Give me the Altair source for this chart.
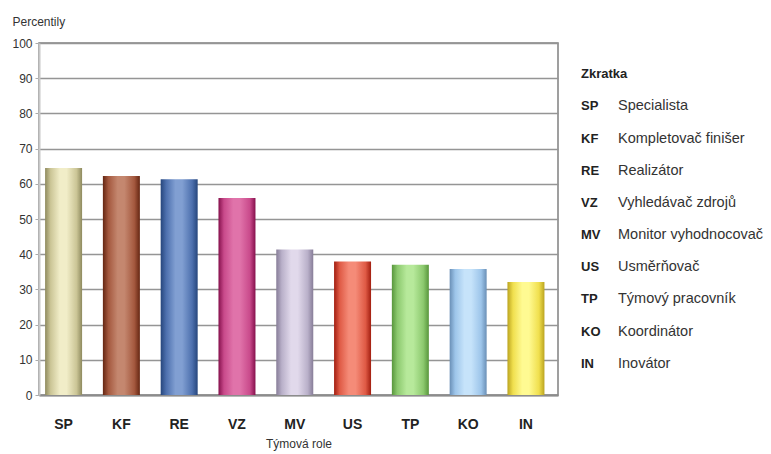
import altair as alt
import pandas as pd

# ---- data ----
roles = ["SP", "KF", "RE", "VZ", "MV", "US", "TP", "KO", "IN"]
values = [64.5, 62.2, 61.3, 56.0, 41.3, 37.9, 37.0, 35.8, 32.1]
names = ["Specialista", "Kompletovač finišer", "Realizátor", "Vyhledávač zdrojů",
         "Monitor vyhodnocovač", "Usměrňovač", "Týmový pracovník", "Koordinátor", "Inovátor"]
# cylinder shading per bar: (edge, base, highlight)
edge_cols = ["#8e8a5e", "#652612", "#26467c", "#86104c", "#877d98", "#a21e10", "#58963c", "#6a8fb6", "#bba420"]
base_cols = ["#cbc596", "#a4583e", "#4d70ae", "#c94a8b", "#b9b0c9", "#df5a45", "#8cc96e", "#9dc5ea", "#f0df4e"]
light_cols = ["#f1edc8", "#c4876f", "#819fd2", "#e073aa", "#e1d9eb", "#f58b78", "#b7e99b", "#c6e3fa", "#fffa92"]

FONT = "Liberation Sans"

bars_df = pd.DataFrame({"role": roles, "value": values})

x_enc = alt.X(
    "role:N",
    scale=alt.Scale(domain=roles, paddingInner=0.36, paddingOuter=0.17, align=0.31),
    axis=alt.Axis(
        title="Týmová role", labelAngle=0, ticks=False, labelPadding=22,
        labelFontSize=14, labelFontWeight="bold", labelColor="#222", labelFont=FONT,
        titleFontSize=12, titleFontWeight="normal", titleColor="#333", titleFont=FONT,
        titlePadding=7, domainColor="#8c8c8c", domainWidth=2,
    ),
)
y_enc = alt.Y(
    "value:Q",
    scale=alt.Scale(domain=[0, 100], nice=False),
    axis=alt.Axis(
        values=list(range(0, 101, 10)), title="Percentily", titleAngle=0,
        titleAlign="left", titleBaseline="middle", titleX=-27, titleY=-22,
        titleFontSize=12, titleFontWeight="normal", titleColor="#333", titleFont=FONT,
        labelFontSize=12, labelColor="#333", labelFont=FONT, labelPadding=3,
        tickSize=4, tickColor="#aaaaaa", domainColor="#c8c8c8", domainWidth=2,
        grid=True, gridColor="#959595", gridWidth=1.5,
    ),
)

layers = []
for i, r in enumerate(roles):
    grad = alt.LinearGradient(
        gradient="linear", x1=0, x2=1, y1=0, y2=0,
        stops=[
            alt.GradientStop(offset=0.0, color=edge_cols[i]),
            alt.GradientStop(offset=0.15, color=base_cols[i]),
            alt.GradientStop(offset=0.40, color=light_cols[i]),
            alt.GradientStop(offset=0.58, color=light_cols[i]),
            alt.GradientStop(offset=0.85, color=base_cols[i]),
            alt.GradientStop(offset=1.0, color=edge_cols[i]),
        ],
    )
    layers.append(
        alt.Chart(bars_df)
        .transform_filter(alt.datum.role == r)
        .mark_bar(fill=grad)
        .encode(x=x_enc, y=y_enc)
    )

main = alt.layer(*layers).properties(
    width=519, height=352, view=alt.ViewBackground(stroke="#808080", strokeWidth=1.5)
)

# ---- legend panel ----
leg_df = pd.DataFrame({"row": list(range(1, 10)), "code": roles, "name": names})
head_df = pd.DataFrame({"row": [0], "txt": ["Zkratka"]})
y_leg = alt.Y("row:O", scale=alt.Scale(type="point", domain=list(range(10)), padding=0.966), axis=None)

head = alt.Chart(head_df).mark_text(
    align="left", baseline="middle", font=FONT, fontSize=13, fontWeight="bold", color="#222"
).encode(y=y_leg, x=alt.value(0), text="txt:N")
codes = alt.Chart(leg_df).mark_text(
    align="left", baseline="middle", font=FONT, fontSize=13, fontWeight="bold", color="#222"
).encode(y=y_leg, x=alt.value(0), text="code:N")
labels = alt.Chart(leg_df).mark_text(
    align="left", baseline="middle", font=FONT, fontSize=14.5, color="#333"
).encode(y=y_leg, x=alt.value(37), text="name:N")

legend = alt.layer(head, codes, labels).properties(
    width=180, height=352, view=alt.ViewBackground(stroke=None)
)

chart = (
    alt.hconcat(main, legend, spacing=22)
    .properties(padding={"left": 11, "top": 14, "right": 0, "bottom": 3})
    .configure_view(stroke=None)
    .configure(background="white")
)

chart.save("out.html", embed_options={"renderer": "svg", "actions": False})
